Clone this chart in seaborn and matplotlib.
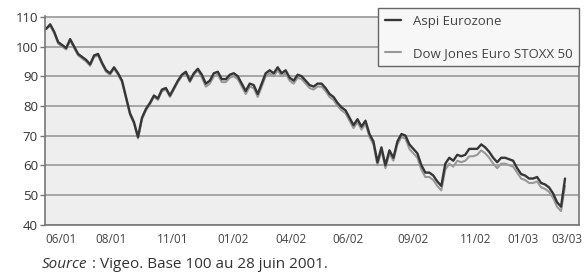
import matplotlib
matplotlib.use("Agg")
import numpy as np
import pandas as pd
import seaborn as sns
from matplotlib import pyplot as plt

# Indices hebdomadaires, base 100 au 28 juin 2001
aspi = [
    106, 107.5, 105, 101.5, 100.5, 99.5, 102.5, 100, 97.5, 96.5,
    95.5, 94, 97, 97.5, 94.5, 92, 91, 93, 91, 88.5,
    83, 77.5, 74.5, 69.5, 76, 79, 81, 83.5, 82.5, 85.5,
    86, 83.5, 86, 88.5, 90.5, 91.5, 88.5, 91, 92.5, 90.5,
    87.5, 88.5, 91, 91.5, 89, 89, 90.5, 91, 90, 87.5,
    85, 87.5, 87, 84, 87.5, 91, 92, 91, 93, 91,
    92, 89.5, 88.5, 90.5, 90, 88.5, 87, 86.5, 87.5, 87.5,
    86, 84, 83, 81, 79.5, 78.5, 76, 73.5, 75.5, 73,
    75, 70.5, 68, 61, 66, 60, 65, 62.5, 68, 70.5,
    70, 67, 65.5, 64, 60, 57.5, 57.5, 56.5, 54.5, 53,
    60.5, 62.5, 61.5, 63.5, 63, 63.5, 65.5, 65.5, 65.5, 67,
    66, 64.5, 62.5, 61, 62.5, 62.5, 62, 61.5, 59, 57,
    56.5, 55.5, 55.5, 56, 54, 53.5, 52.5, 50.5, 47.5, 46,
    55.5,
]
dow_jones = [
    106, 107, 104.5, 101, 100, 99, 102, 99.5, 97, 96,
    95, 93.5, 96.5, 97, 94, 91.5, 90.5, 92.5, 90.5, 88,
    82.5, 77, 74, 69, 75.5, 78.5, 80.5, 83, 82, 85,
    85.5, 83, 85.5, 88, 90, 91, 88, 90.5, 92, 89.5,
    86.5, 87.5, 90, 90.5, 88, 88, 89.5, 90, 89, 86.5,
    84, 86.5, 86, 83, 86.5, 90, 91, 90, 92, 90,
    91, 88.5, 87.5, 89.5, 89, 87.5, 86, 85.5, 86.5, 86.5,
    85, 83, 82, 80, 78.5, 77.5, 75, 72.5, 74.5, 72,
    74, 69.5, 67, 60, 65, 59, 64, 61.5, 67, 69.5,
    69, 65.5, 64, 62.5, 58.5, 56, 56, 55, 53, 51.5,
    58.5, 60.5, 59.5, 61.5, 61, 61.5, 63, 63, 63.5, 65,
    64, 62.5, 60.5, 59, 60.5, 60.5, 60, 59.5, 57.5, 55.5,
    55, 54, 54, 54.5, 52.5, 52, 51, 49, 46, 44.5,
    53,
]
mois = ["06/01", "08/01", "11/01", "01/02", "04/02", "06/02",
        "09/02", "11/02", "01/03", "03/03"]
mois_pos = [3.75, 16.25, 31.75, 46.75, 61.25, 75.5, 92, 107.5, 119.5, 130.5]
y_ticks = [40, 50, 60, 70, 80, 90, 100, 110]

df = pd.DataFrame({
    "semaine": np.arange(len(aspi)),
    "Aspi Eurozone": aspi,
    "Dow Jones Euro STOXX 50": dow_jones,
})

sns.set_theme(style="white")
plt.rcParams["font.family"] = ["Open Sans", "DejaVu Sans"]

fig = plt.figure(figsize=(5.88, 2.77), dpi=100)
ax = fig.add_axes([45 / 588, 52.5 / 277, 534 / 588, 208.5 / 277])
ax.set_facecolor("#eeeeee")

sns.lineplot(data=df, x="semaine", y="Dow Jones Euro STOXX 50", ax=ax,
             color="#999999", linewidth=1.5, label="Dow Jones Euro STOXX 50")
sns.lineplot(data=df, x="semaine", y="Aspi Eurozone", ax=ax,
             color="#363636", linewidth=1.7, label="Aspi Eurozone")

ax.set_xlim(-0.3, 133.5)
ax.set_ylim(40, 110.3)
ax.set_yticks(y_ticks)
ax.set_xticks(mois_pos)
ax.set_xticklabels(mois)
ax.set_xlabel("")
ax.set_ylabel("")
ax.yaxis.grid(True, color="#999999", linewidth=1.2)
ax.set_axisbelow(True)

for side in ["left", "bottom", "right"]:
    ax.spines[side].set_color("#777777")
    ax.spines[side].set_linewidth(1.2)
ax.spines["top"].set_visible(False)

ax.tick_params(axis="y", length=3.5, width=1, color="#777777", pad=1.5,
               labelsize=9.5, labelcolor="#333333", left=True)
ax.tick_params(axis="x", length=0, pad=6, labelsize=8.5, labelcolor="#444444")

handles, labels = ax.get_legend_handles_labels()
leg = ax.legend(handles[::-1], labels[::-1], loc="upper right",
                bbox_to_anchor=(1.0, 1.038), frameon=True, fancybox=False,
                edgecolor="#666666", facecolor="#f7f7f7", framealpha=1,
                fontsize=9.5, labelspacing=1.45, handlelength=1.2,
                handletextpad=0.9, borderpad=0.5, borderaxespad=0)
leg.get_frame().set_linewidth(1.0)
for t in leg.get_texts():
    t.set_color("#444444")

src = fig.text(42 / 588, 1 - 265 / 277, "Source", style="italic",
               fontsize=11, color="#333333", va="center")
ax.annotate(" : Vigeo. Base 100 au 28 juin 2001.", xy=(1, 0.5),
            xycoords=src, va="center", ha="left", fontsize=11,
            color="#333333", annotation_clip=False)

fig.savefig("out.png", dpi=100)
